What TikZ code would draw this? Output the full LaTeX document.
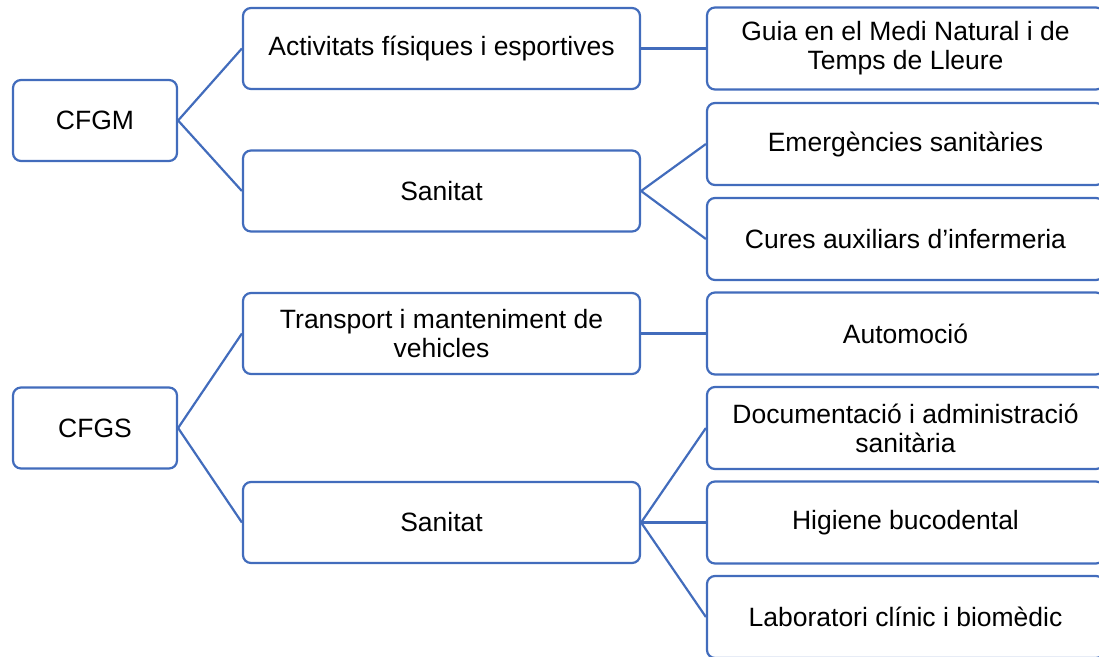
\documentclass[tikz,border=0pt]{standalone}
\usepackage{fontspec}
\setmainfont{Liberation Sans}
\definecolor{boxblue}{RGB}{66,108,188}
\begin{document}
\begin{tikzpicture}[x=1pt,y=-1pt,
  box/.style={draw=boxblue, line width=2.2pt, rounded corners=8pt, fill=white,
    inner sep=0pt, align=center, font=\fontsize{26.5}{29}\selectfont, text=black},
  leftbox/.style={box, minimum width=164pt, minimum height=81pt},
  midbox/.style={box, minimum width=397pt, minimum height=81pt},
  rightbox/.style={box, minimum width=397pt, minimum height=82pt},
  link/.style={draw=boxblue, line width=2.2pt}]
\useasboundingbox (0,0) rectangle (1099,656);
\begin{scope}
\clip (0,0) rectangle (1099,656);
\node[leftbox] (cfgm) at (95,120.5) {CFGM};
\node[leftbox] (cfgs) at (95,428) {CFGS};
\node[midbox] (afe) at (441.5,48.5) {Activitats físiques i esportives};
\node[midbox] (san1) at (441.5,191) {Sanitat};
\node[midbox] (tmv) at (441.5,333.5) {Transport i manteniment de\\vehicles};
\node[midbox] (san2) at (441.5,522.5) {Sanitat};
\node[rightbox] (guia) at (905.5,48.5) {Guia en el Medi Natural i de\\Temps de Lleure};
\node[rightbox] (emer) at (905.5,144) {Emergències sanitàries};
\node[rightbox] (cures) at (905.5,239) {Cures auxiliars d’infermeria};
\node[rightbox] (auto) at (905.5,333.5) {Automoció};
\node[rightbox] (doc) at (905.5,428) {Documentació i administració\\sanitària};
\node[rightbox] (hig) at (905.5,522.5) {Higiene bucodental};
\node[rightbox] (lab) at (905.5,617) {Laboratori clínic i biomèdic};
\end{scope}
\draw[link] (cfgm.east) -- (afe.west);
\draw[link] (cfgm.east) -- (san1.west);
\draw[link] (afe.east) -- (guia.west);
\draw[link] (san1.east) -- (emer.west);
\draw[link] (san1.east) -- (cures.west);
\draw[link] (cfgs.east) -- (tmv.west);
\draw[link] (cfgs.east) -- (san2.west);
\draw[link] (tmv.east) -- (auto.west);
\draw[link] (san2.east) -- (doc.west);
\draw[link] (san2.east) -- (hig.west);
\draw[link] (san2.east) -- (lab.west);
\end{tikzpicture}
\end{document}
